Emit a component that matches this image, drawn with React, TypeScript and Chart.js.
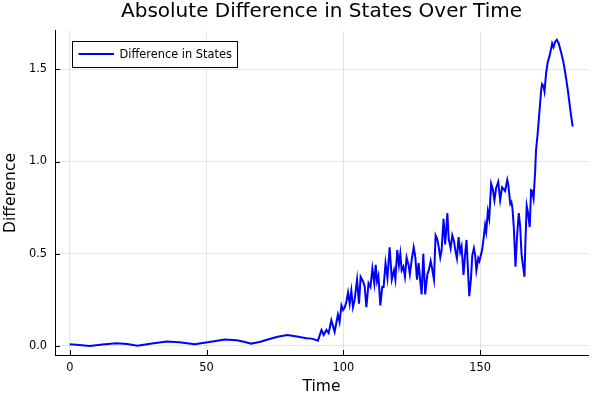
import React, { useEffect, useRef } from "react";
import { Chart, registerables } from "chart.js";

Chart.register(...registerables);

const titleText = "Absolute Difference in States Over Time";
const xLabel = "Time";
const yLabel = "Difference";
const seriesLabel = "Difference in States";

const xTicks = [0, 50, 100, 150];
const yTicks = [0, 0.5, 1.0, 1.5];

const times = [
  0, 3.5, 7.2, 12, 17, 21, 24.7, 30, 35.5, 40, 45.7, 51, 56.7, 61, 64, 66.3, 68, 70, 73, 76, 79.5, 83, 86.5, 88.5, 90.7,
  92.0, 92.8, 93.8, 94.6, 95.6, 96.8, 98.0, 98.6, 99.3, 99.9, 100.5, 101.1, 101.7, 102.3, 102.9, 103.5, 104.1, 105.0,
  105.7, 106.3, 107.2, 107.8, 108.4, 109.2, 109.9, 110.6, 111.3, 111.8, 112.3, 112.8, 113.5, 114.2, 114.7, 115.4,
  116.1, 116.9, 117.7, 118.5, 119.0, 119.7, 120.3, 120.8, 121.3, 121.9, 122.5, 123.1, 123.8, 124.3, 124.9, 125.7,
  126.3, 126.9, 127.5, 128.1, 128.6, 129.2, 129.9, 130.7, 131.2, 131.9, 132.3, 133.1, 133.7, 134.3, 134.8, 135.4,
  135.9, 136.6, 137.2, 138.0, 138.5, 139.2, 139.8, 140.4, 140.9, 141.5, 142.1, 142.7, 143.2, 143.9, 144.5, 145.0,
  145.5, 146.0, 146.6, 147.1, 147.7, 148.2, 148.6, 149.3, 149.7, 150.2, 150.7, 151.3, 151.8, 152.2, 152.8, 153.3,
  154.0, 154.6, 155.2, 155.8, 156.6, 157.3, 158.0, 158.6, 159.1, 159.9, 160.3, 161.0, 161.4, 161.8, 162.3, 162.9,
  163.5, 164.1, 164.6, 165.1, 165.5, 166.2, 166.5, 167.0, 167.5, 168.1, 168.6, 169.0, 169.5, 170.1, 170.4, 171.0,
  171.6, 172.3, 172.6, 173.1, 173.5, 174.1, 174.7, 175.3, 175.9, 176.3, 176.8, 177.4, 178.0, 178.7, 179.6, 180.4,
  181.1, 182.0, 182.6, 183.2, 183.8,
];

const values = [
  0.010, 0.005, 0.000, 0.008, 0.015, 0.011, 0.002, 0.014, 0.024, 0.020, 0.010, 0.022, 0.035, 0.031, 0.022, 0.013,
  0.018, 0.024, 0.038, 0.050, 0.060, 0.052, 0.042, 0.040, 0.029,
  0.087, 0.060, 0.087, 0.070, 0.140, 0.077, 0.170, 0.130, 0.220, 0.195, 0.21, 0.24, 0.29, 0.23, 0.30, 0.21, 0.25, 0.36,
  0.23, 0.375, 0.35, 0.32, 0.21, 0.34, 0.32, 0.42, 0.34, 0.44, 0.35, 0.38, 0.22, 0.32, 0.32, 0.45,
  0.37, 0.535, 0.36, 0.41, 0.36, 0.52, 0.44, 0.50, 0.41, 0.43, 0.375, 0.48, 0.44, 0.39, 0.46, 0.535,
  0.48, 0.36, 0.45, 0.35, 0.28, 0.50, 0.28, 0.39, 0.41, 0.46, 0.43, 0.36, 0.60, 0.58, 0.54, 0.48,
  0.52, 0.69, 0.55, 0.72, 0.58, 0.53, 0.60, 0.57, 0.52, 0.475, 0.59, 0.51, 0.54, 0.385, 0.50, 0.575,
  0.42, 0.27, 0.36, 0.49, 0.53, 0.49, 0.41, 0.475, 0.46, 0.49, 0.52, 0.59, 0.655, 0.62, 0.73, 0.69,
  0.88, 0.85, 0.79, 0.855, 0.89, 0.79, 0.86, 0.85, 0.84, 0.90, 0.87, 0.77, 0.78, 0.745, 0.64, 0.43,
  0.60, 0.72, 0.65, 0.50, 0.45, 0.375, 0.55, 0.76, 0.72, 0.645, 0.845, 0.84, 0.80, 0.95, 1.06, 1.15,
  1.26, 1.39, 1.42, 1.41, 1.38, 1.48, 1.54, 1.57, 1.61, 1.64, 1.62, 1.65, 1.66, 1.64, 1.59, 1.54,
  1.48, 1.39, 1.32, 1.25, 1.19,
];

const FONT = "'DejaVu Sans', sans-serif";

export default function App() {
  const ref = useRef<HTMLCanvasElement>(null);

  useEffect(() => {
    document.body.style.margin = "0";
    const canvas = ref.current;
    if (!canvas) return;

    const decorations = {
      id: "decorations",
      afterDraw(chart: any) {
        const { ctx, chartArea, scales } = chart;
        ctx.save();
        ctx.strokeStyle = "#000";
        ctx.lineWidth = 1;
        ctx.beginPath();
        for (const v of xTicks) {
          const px = Math.round(scales.x.getPixelForValue(v)) + 0.5;
          ctx.moveTo(px, chartArea.bottom);
          ctx.lineTo(px, chartArea.bottom - 5);
        }
        for (const v of yTicks) {
          const py = Math.round(scales.y.getPixelForValue(v)) + 0.5;
          ctx.moveTo(chartArea.left, py);
          ctx.lineTo(chartArea.left + 5, py);
        }
        ctx.stroke();

        // legend box inside plot area
        const ds = chart.data.datasets[0];
        ctx.font = `11.4px ${FONT}`;
        const tw = ctx.measureText(ds.label).width;
        const bx = Math.round(chartArea.left + 17) + 0.5;
        const by = Math.round(chartArea.top + 10) + 0.5;
        const bw = Math.round(47 + tw + 6);
        const bh = 26;
        ctx.fillStyle = "#fff";
        ctx.fillRect(bx, by, bw, bh);
        ctx.strokeStyle = "#000";
        ctx.lineWidth = 1;
        ctx.strokeRect(bx, by, bw, bh);
        ctx.strokeStyle = ds.borderColor;
        ctx.lineWidth = 2;
        ctx.beginPath();
        ctx.moveTo(bx + 6, by + 12.5);
        ctx.lineTo(bx + 41.5, by + 12.5);
        ctx.stroke();
        ctx.fillStyle = "#000";
        ctx.textBaseline = "middle";
        ctx.textAlign = "left";
        ctx.fillText(ds.label, bx + 47, by + 13.5);
        ctx.restore();
      },
    };

    const chart = new Chart(canvas, {
      type: "line",
      data: {
        datasets: [
          {
            label: seriesLabel,
            data: times.map((t, i) => ({ x: t, y: values[i] })),
            borderColor: "#0000ff",
            backgroundColor: "#0000ff",
            borderWidth: 2,
            pointRadius: 0,
            tension: 0,
            fill: false,
          },
        ],
      },
      options: {
        responsive: false,
        animation: false,
        events: [],
        layout: { padding: { left: 0, right: 12, top: 0, bottom: 0 } },
        plugins: {
          legend: { display: false },
          tooltip: { enabled: false },
          title: {
            display: true,
            text: titleText,
            fullSize: false,
            color: "#000",
            font: { family: FONT, size: 20, weight: "normal", lineHeight: 1.14 },
            padding: { top: 0, bottom: 8.2 },
          },
        },
        scales: {
          x: {
            type: "linear",
            min: -5.4,
            max: 189.4,
            afterBuildTicks: (s: any) => {
              s.ticks = xTicks.map((v) => ({ value: v }));
            },
            afterFit: (s: any) => {
              s.height = 45;
            },
            grid: { color: "rgba(0,0,0,0.1)", drawTicks: false, lineWidth: 1 },
            border: { display: true, color: "#000", width: 1 },
            ticks: {
              padding: 6,
              color: "#000",
              maxRotation: 0,
              font: { family: FONT, size: 11.4 },
              callback: (v: any) => String(v),
            },
            title: {
              display: true,
              text: xLabel,
              color: "#000",
              font: { family: FONT, size: 15.5 },
              padding: { top: 0, bottom: 3.6 },
            },
          },
          y: {
            type: "linear",
            min: -0.0488,
            max: 1.7076,
            afterBuildTicks: (s: any) => {
              s.ticks = yTicks.map((v) => ({ value: v }));
            },
            afterFit: (s: any) => {
              s.width = 55;
            },
            grid: { color: "rgba(0,0,0,0.1)", drawTicks: false, lineWidth: 1 },
            border: { display: true, color: "#000", width: 1 },
            ticks: {
              padding: 8,
              color: "#000",
              font: { family: FONT, size: 11.4 },
              callback: (v: any) => Number(v).toFixed(1),
            },
            title: {
              display: true,
              text: yLabel,
              color: "#000",
              font: { family: FONT, size: 15.5 },
              padding: { top: 2, bottom: 0 },
            },
          },
        },
      },
      plugins: [decorations],
    });

    return () => chart.destroy();
  }, []);

  return (
    <div style={{ width: 600, height: 400 }}>
      <canvas ref={ref} width={600} height={400} style={{ display: "block" }} />
    </div>
  );
}
